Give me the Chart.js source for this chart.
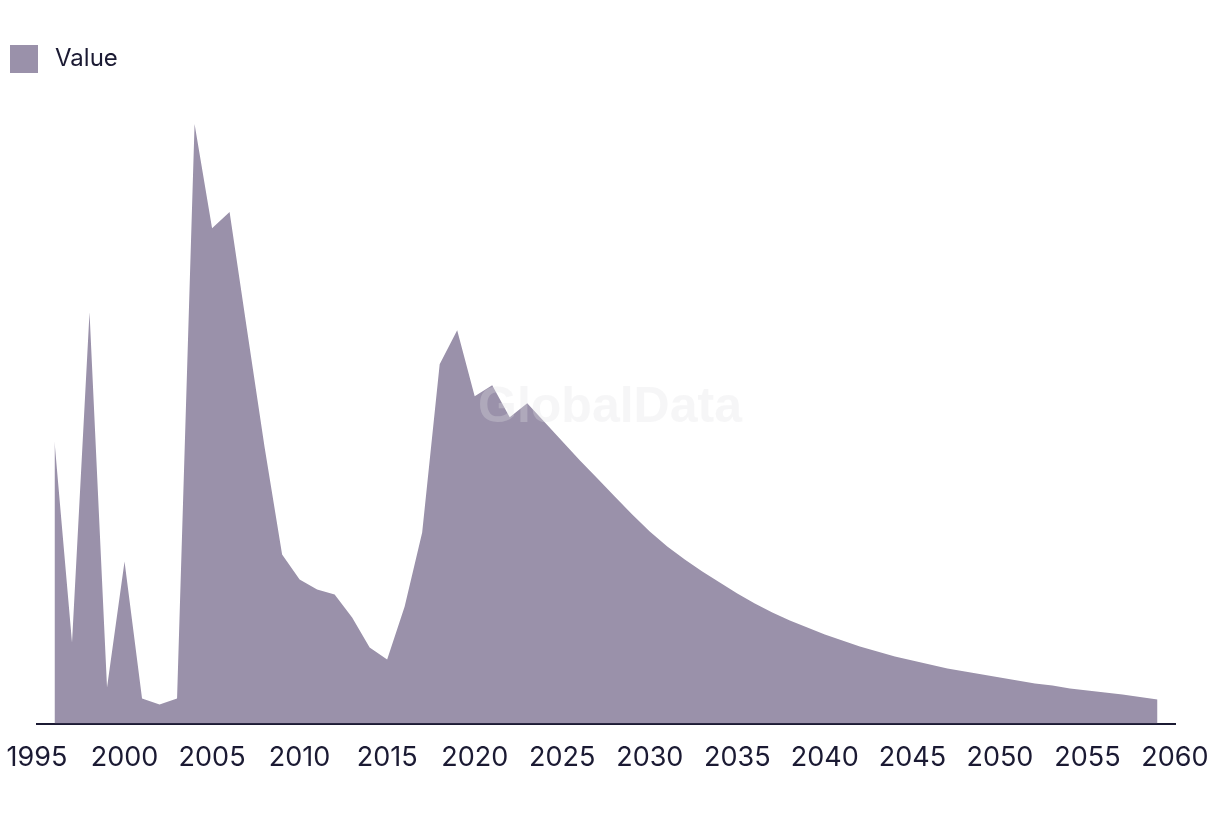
<!DOCTYPE html>
<html>
<head>
<meta charset="utf-8">
<script src="https://cdn.jsdelivr.net/npm/chart.js@4"></script>
<style>
    html, body { margin: 0; padding: 0; background: #ffffff; }
    #wrap { width: 1220px; height: 814px; position: relative; }
</style>
</head>
<body>
<div id="wrap"><canvas id="chartCanvas"></canvas></div>
<script>
// 年份
const years = [
    1996, 1997, 1998, 1999, 2000, 2001, 2002, 2003, 2004, 2005,
    2006, 2007, 2008, 2009, 2010, 2011, 2012, 2013, 2014, 2015,
    2016, 2017, 2018, 2019, 2020, 2021, 2022, 2023, 2024, 2025,
    2026, 2027, 2028, 2029, 2030, 2031, 2032, 2033, 2034, 2035,
    2036, 2037, 2038, 2039, 2040, 2041, 2042, 2043, 2044, 2045,
    2046, 2047, 2048, 2049, 2050, 2051, 2052, 2053, 2054, 2055,
    2056, 2057, 2058, 2059
];

// 數值
const values = [
    282, 81, 411, 36, 162, 25, 19, 25, 599, 495,
    511, 393, 276, 169, 144, 134, 129, 106, 76, 64,
    117, 191, 359, 393, 327, 338, 306, 320, 301, 282,
    263, 245, 227, 209, 192, 177, 164, 152, 141, 130,
    120, 111, 103, 96, 89, 83, 77, 72, 67, 63,
    59, 55, 52, 49, 46, 43, 40, 38, 35, 33,
    31, 29, 26.5, 24
];

// x 軸刻度
const tickYears = [1995, 2000, 2005, 2010, 2015, 2020, 2025, 2030, 2035, 2040, 2045, 2050, 2055, 2060];

const seriesName = 'Value';
const fillColor = '#9a91aa';
const inkColor = '#1b1a33';

// 圖例方塊（28x28）
const legendBox = document.createElement('canvas');
legendBox.width = 28;
legendBox.height = 28;
const bctx = legendBox.getContext('2d');
bctx.fillStyle = fillColor;
bctx.fillRect(0, 0, 28, 28);

// 浮水印
const watermark = {
    id: 'watermark',
    afterDatasetsDraw(chart) {
        const { ctx, chartArea } = chart;
        ctx.save();
        ctx.font = 'bold 50px "Liberation Sans", Arial, sans-serif';
        ctx.fillStyle = 'rgba(225, 225, 228, 0.3)';
        ctx.textAlign = 'center';
        ctx.textBaseline = 'middle';
        ctx.fillText('GlobalData', 610, 408);
        ctx.restore();
    }
};

const points = years.map((yr, i) => ({ x: yr, y: values[i] }));

new Chart(document.getElementById('chartCanvas'), {
    type: 'line',
    data: {
        datasets: [{
            label: seriesName,
            data: points,
            fill: 'origin',
            backgroundColor: fillColor,
            borderColor: fillColor,
            borderWidth: 0,
            pointRadius: 0,
            pointStyle: legendBox,
            tension: 0
        }]
    },
    options: {
        responsive: true,
        maintainAspectRatio: false,
        animation: false,
        layout: { padding: { top: 42, right: 45, bottom: 22, left: 0 } },
        plugins: {
            legend: {
                display: true,
                position: 'top',
                align: 'start',
                labels: {
                    usePointStyle: true,
                    pointStyleWidth: 38,
                    padding: 5,
                    color: inkColor,
                    font: { family: 'Inter, "Noto Sans", sans-serif', size: 24 }
                }
            },
            tooltip: { enabled: false }
        },
        scales: {
            x: {
                type: 'linear',
                min: 1995,
                max: 2060,
                afterBuildTicks: axis => { axis.ticks = tickYears.map(v => ({ value: v })); },
                afterFit: axis => { axis.paddingLeft = 0; axis.paddingRight = 0; },
                ticks: {
                    color: inkColor,
                    padding: 18,
                    maxRotation: 0,
                    autoSkip: false,
                    font: { family: 'Inter, "Noto Sans", sans-serif', size: 27 },
                    callback: v => String(v)
                },
                grid: { display: false, drawTicks: false },
                border: { display: true, color: inkColor, width: 2 }
            },
            y: {
                min: 0,
                max: 642,
                ticks: { display: false },
                grid: { display: false, drawTicks: false },
                border: { display: false },
                afterFit: axis => { axis.width = 37; }
            }
        }
    },
    plugins: [watermark]
});
</script>
</body>
</html>
